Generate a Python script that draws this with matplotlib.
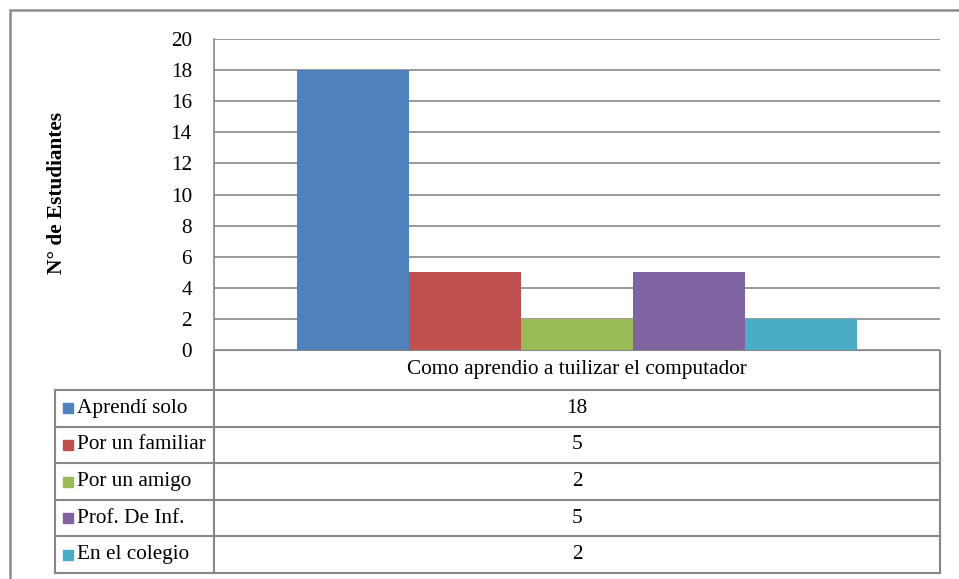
import numpy as np
import matplotlib.pyplot as plt
from matplotlib.patches import Rectangle

# Data
category = "Como aprendio a tuilizar el computador"
series = ["Aprendí solo", "Por un familiar", "Por un amigo", "Prof. De Inf.", "En el colegio"]
values = [18, 5, 2, 5, 2]
colors = ["#4F81BD", "#C0504D", "#9BBB59", "#8064A2", "#4BACC6"]
yticks = [0, 2, 4, 6, 8, 10, 12, 14, 16, 18, 20]

plt.rcParams['font.family'] = ['Liberation Serif', 'DejaVu Serif']
W, H = 959, 579
grey = "#878787"
fs = 15.3

fig = plt.figure(figsize=(W / 100, H / 100), dpi=100)

def px_box(x0, y0, x1, y1):
    return [x0 / W, 1 - y1 / H, (x1 - x0) / W, (y1 - y0) / H]

# outer frame (runs past right/bottom edge)
fig.patches.append(Rectangle((10 / W, -0.05), 1.05, 1 - 10 / H + 0.05,
                             transform=fig.transFigure, fill=False,
                             edgecolor="#8c8c8c", linewidth=1.8))

# Bar chart
ax = fig.add_axes(px_box(214, 39, 940, 350))
n = len(values)
group_w = 0.77
bw = group_w / n
x = np.arange(n) * bw - group_w / 2 + bw / 2
ax.bar(x, values, width=bw, color=colors, zorder=3)
ax.set_xlim(-0.5, 0.5)
ax.set_ylim(0, 20)
ax.set_yticks(yticks)
ax.set_yticklabels([str(t) for t in yticks], fontsize=fs)
ax.yaxis.grid(True, color=grey, linewidth=1.2, zorder=0)
ax.set_xticks([])
ax.tick_params(axis='y', length=0, pad=16)
for s in ["top", "right", "bottom"]:
    ax.spines[s].set_visible(False)
ax.spines["left"].set_color(grey)
ax.spines["left"].set_linewidth(1.2)
ax.set_ylabel("N° de Estudiantes", fontsize=fs, fontweight="bold")
ax.yaxis.set_label_coords((67 - 214) / 726, (350 - 193) / 311)

# Data table below the chart
tx = fig.add_axes(px_box(50, 350, 945, 576))
tx.set_xlim(50, 945)
tx.set_ylim(576, 350)
tx.axis("off")
left, mid, right = 55, 214, 940
top, head_bot, bottom = 350, 390, 573
row_h = (bottom - head_bot) / n
lw = 1.5
tx.plot([mid, right], [top, top], color=grey, lw=lw)
tx.plot([mid, mid], [top, bottom], color=grey, lw=lw)
tx.plot([right, right], [top, bottom], color=grey, lw=lw)
tx.plot([left, left], [head_bot, bottom], color=grey, lw=lw)
for i in range(n + 1):
    y = head_bot + i * row_h
    tx.plot([left, right], [y, y], color=grey, lw=lw)
tx.text((mid + right) / 2, (top + head_bot) / 2, category, ha="center", va="center", fontsize=fs)
for i, (name, v, c) in enumerate(zip(series, values, colors)):
    yc = head_bot + (i + 0.5) * row_h
    tx.add_patch(Rectangle((63, yc - 5), 10, 10, color=c))
    tx.text(77, yc, name, ha="left", va="center", fontsize=fs)
    tx.text((mid + right) / 2, yc, str(v), ha="center", va="center", fontsize=fs)

fig.savefig("out.png", dpi=100)
